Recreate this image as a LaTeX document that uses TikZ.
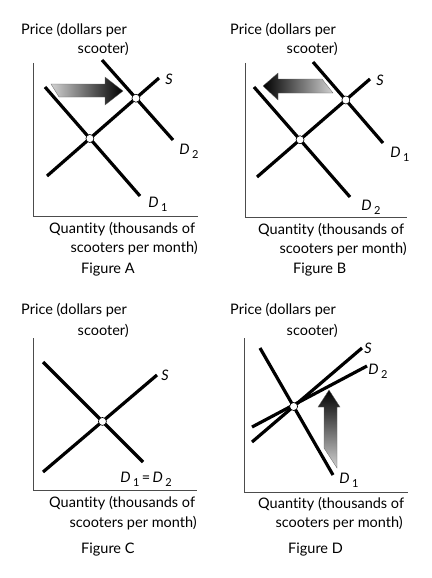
\documentclass[tikz,border=0pt]{standalone}
\usepackage{fontspec}
\setmainfont{Lato}[Ligatures={NoCommon,NoRare}]
\begin{document}
\begin{tikzpicture}[x=1pt,y=-1pt,
  curve/.style={line width=3.2pt},
  axisline/.style={line width=1pt, draw=black!70},
  eqpt/.style={circle, draw, fill=white, inner sep=0pt, minimum size=8pt, line width=0.6pt},
  lbl/.style={font=\fontsize{14.5}{17}\selectfont, inner sep=0pt},
  crv/.style={font=\fontsize{14.5}{17}\selectfont\itshape, inner sep=0pt},
  shiftarrow/.style={draw=black!60, line width=0.3pt}]
\useasboundingbox (0,0) rectangle (431,578);
\newcommand{\subD}[1]{D\,\raisebox{-0.3em}{\upshape\fontsize{11}{11}\selectfont #1}}

% ================= Figure A =================
\coordinate (Ao) at (33,216);
\coordinate (Ay) at (33,63);
\coordinate (Ax) at (198,216);
\draw[axisline] (Ay) -- (Ao) -- (Ax);
\coordinate (AS1) at (47,176);  \coordinate (AS2) at (159,78);
\coordinate (AD11) at (45,87);  \coordinate (AD12) at (140,196);
\coordinate (AD21) at (102,60); \coordinate (AD22) at (173,140);
\draw[curve] (AS1) -- (AS2);
\draw[curve] (AD11) -- (AD12);
\draw[curve] (AD21) -- (AD22);
\node[eqpt] (Ae1) at (intersection of AS1--AS2 and AD11--AD12) {};
\node[eqpt] (Ae2) at (intersection of AS1--AS2 and AD21--AD22) {};
\shadedraw[shiftarrow, left color=black!18, right color=black]
  (51,84) -- (105,84) -- (105,77) -- (123,91) -- (105,105) -- (105,97) -- (59,97) -- cycle;
\node[crv] (AlS) at (169,79) {S};
\node[crv] (AlD2) at (189,151) {\subD{2}};
\node[crv] (AlD1) at (158,204) {\subD{1}};
\node[lbl, anchor=base west] (Ap1) at (21,35) {Price (dollars per};
\node[lbl, anchor=base east] (Ap2) at (129,54) {scooter)};
\node[lbl, anchor=base west] (Aq1) at (49,233) {Quantity (thousands of};
\node[lbl, anchor=base east] (Aq2) at (198,252) {scooters per month)};
\node[lbl, anchor=base west] (Af) at (81,273) {Figure A};

% ================= Figure B =================
\coordinate (Bo) at (245,217);
\coordinate (By) at (245,63);
\coordinate (Bx) at (407,217);
\draw[axisline] (By) -- (Bo) -- (Bx);
\coordinate (BS1) at (257,177);  \coordinate (BS2) at (370,79);
\coordinate (BD11) at (313,62);  \coordinate (BD12) at (383,143);
\coordinate (BD21) at (254,87);  \coordinate (BD22) at (350,197);
\draw[curve] (BS1) -- (BS2);
\draw[curve] (BD11) -- (BD12);
\draw[curve] (BD21) -- (BD22);
\node[eqpt] (Be1) at (intersection of BS1--BS2 and BD21--BD22) {};
\node[eqpt] (Be2) at (intersection of BS1--BS2 and BD11--BD12) {};
\shadedraw[shiftarrow, left color=black, right color=black!18]
  (263,86) -- (278,73) -- (278,79) -- (322,79) -- (333,93) -- (278,93) -- (278,100) -- cycle;
\node[crv] (BlS) at (380,80) {S};
\node[crv] (BlD1) at (400,154) {\subD{1}};
\node[crv] (BlD2) at (371,207) {\subD{2}};
\node[lbl, anchor=base west] (Bp1) at (230,35) {Price (dollars per};
\node[lbl, anchor=base east] (Bp2) at (338,54) {scooter)};
\node[lbl, anchor=base west] (Bq1) at (258,234) {Quantity (thousands of};
\node[lbl, anchor=base east] (Bq2) at (407,253) {scooters per month)};
\node[lbl, anchor=base west] (Bf) at (293,273) {Figure B};

% ================= Figure C =================
\coordinate (Co) at (33,490);
\coordinate (Cy) at (33,338);
\coordinate (Cx) at (197,490);
\draw[axisline] (Cy) -- (Co) -- (Cx);
\coordinate (CS1) at (43,472);  \coordinate (CS2) at (157,375);
\coordinate (CD1) at (43,362);  \coordinate (CD2) at (143,462);
\draw[curve] (CS1) -- (CS2);
\draw[curve] (CD1) -- (CD2);
\node[eqpt] (Ce) at (intersection of CS1--CS2 and CD1--CD2) {};
\node[crv] (ClS) at (165,375) {S};
\node[crv] (ClD) at (146,479) {\subD{1}\,{\upshape=}\,\subD{2}};
\node[lbl, anchor=base west] (Cp1) at (21,314) {Price (dollars per};
\node[lbl, anchor=base east] (Cp2) at (129,335) {scooter)};
\node[lbl, anchor=base west] (Cq1) at (49,507) {Quantity (thousands of};
\node[lbl, anchor=base east] (Cq2) at (197,527) {scooters per month)};
\node[lbl, anchor=base west] (Cf) at (81,553) {Figure C};

% ================= Figure D =================
\coordinate (Do) at (244,492);
\coordinate (Dy) at (244,338);
\coordinate (Dx) at (408,492);
\draw[axisline] (Dy) -- (Do) -- (Dx);
\coordinate (DD11) at (260,348); \coordinate (DD12) at (333,475);
\coordinate (DS1) at (252,442);  \coordinate (DS2) at (362,348);
\coordinate (DD21) at (252,427); \coordinate (DD22) at (367,366);
\draw[curve] (DD11) -- (DD12);
\draw[curve] (DS1) -- (DS2);
\draw[curve] (DD21) -- (DD22);
\node[eqpt] (De) at (intersection of DS1--DS2 and DD11--DD12) {};
\shadedraw[shiftarrow, top color=black, bottom color=black!18]
  (329,390) -- (340,407) -- (337,407) -- (337,468) -- (324,448) -- (324,407) -- (318,407) -- cycle;
\node[crv] (DlS) at (368,348) {S};
\node[crv] (DlD2) at (378,371) {\subD{2}};
\node[crv] (DlD1) at (349,480) {\subD{1}};
\node[lbl, anchor=base west] (Dp1) at (230,314) {Price (dollars per};
\node[lbl, anchor=base east] (Dp2) at (338,335) {scooter)};
\node[lbl, anchor=base west] (Dq1) at (258,508) {Quantity (thousands of};
\node[lbl, anchor=base east] (Dq2) at (403,527) {scooters per month)};
\node[lbl, anchor=base west] (Df) at (288,553) {Figure D};
\end{tikzpicture}
\end{document}
